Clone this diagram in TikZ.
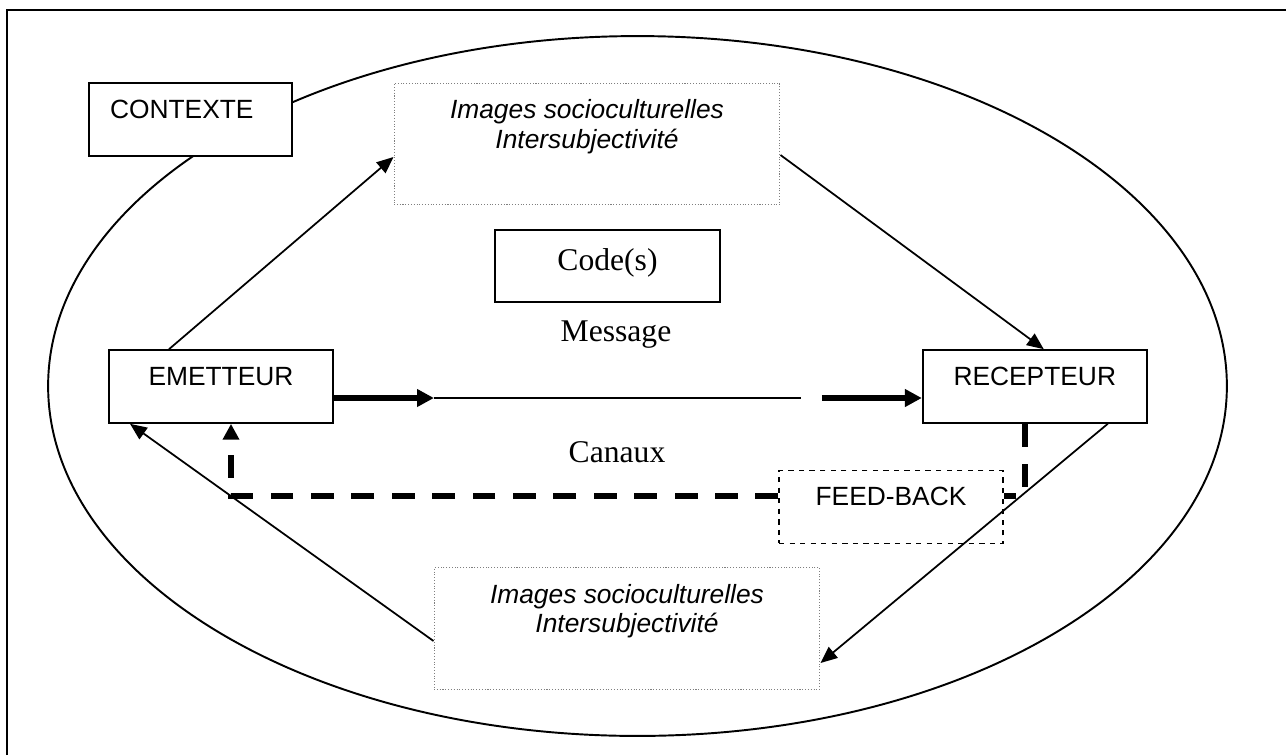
\documentclass[tikz,border=0pt]{standalone}
\usepackage{fontspec}
\setmainfont{Liberation Serif}
\setsansfont{Liberation Sans}
\usepackage{tikz}
\usetikzlibrary{positioning, calc, arrows.meta}
\definecolor{dotGray}{HTML}{7F7F7F}
\newcommand{\imgtext}{\begin{tabular}[t]{@{}c@{}}Images socioculturelles\\Intersubjectivité\end{tabular}}

\begin{document}
\begin{tikzpicture}[x=0.02cm, y=-0.02cm,
  box/.style={draw, fill=white, line width=1.1pt, inner ysep=0pt, minimum width=4.48cm, text height=20pt, text depth=21.4pt, font=\sffamily\fontsize{15}{17}\selectfont},
  imgbox/.style={draw=dotGray, densely dotted, line width=0.6pt, inner sep=0pt, minimum width=7.72cm, text height=20pt, text depth=49pt, font=\sffamily\itshape\fontsize{15}{17}\selectfont},
  lbl/.style={font=\fontsize{18}{21}\selectfont, anchor=base, inner sep=0pt},
  arr/.style={-{Triangle[length=9.5pt, width=8pt]}, line width=1pt},
  fat/.style={-{Triangle[length=9.6pt, width=9.6pt]}, line width=3.6pt},
  fbline/.style={line width=3.2pt, dash pattern=on 13pt off 10pt}
]
\useasboundingbox (0,0) rectangle (1286,755);
\draw[line width=1.1pt] (7,755) -- (7,10) -- (1286,10);
\draw[line width=1.1pt] (637.5,386) ellipse [x radius=11.79cm, y radius=7cm];

\node[box, align=left, text width=3.22cm, inner xsep=0.42cm, minimum width=4.06cm] (ctx) at (190.5,119.5) {CONTEXTE};
\node[box] (emet) at (221,386.5) {EMETTEUR};
\node[box, right=11.76cm of emet] (rec) {RECEPTEUR};
\node[imgbox] (imgtop) at (587,144) {\imgtext};
\node[imgbox] (imgbot) at (627,628.5) {\imgtext};
\node[box, font=\fontsize{18}{21}\selectfont, text height=23pt, text depth=17.8pt, minimum width=4.5cm] (code) at (607.5,266) {Code(s)};
\node[box, dashed, line width=0.8pt, fill=none] (fb) at (891,507) {FEED-BACK};
\node[lbl] (msg) at (616,341) {Message};
\node[lbl] (can) at (617,462) {Canaux};

% canal
\draw[fat] ($(emet.east)+(0,11.5)$) -- ++(100,0) coordinate (canA);
\draw[line width=1pt] (canA) -- ++(367,0) coordinate (canB);
\draw[fat] ($(canB)+(21,0)$) -- ($(rec.west)+(0,11.5)$);

% images
\draw[arr] ($(emet.north west)+(61,0)$) -- ($(imgtop.west)+(0,13)$);
\draw[arr] ($(imgtop.east)+(0,11)$) -- ($(rec.north)+(9,0)$);
\draw[arr] ($(imgbot.west)+(0,12.5)$) -- ($(emet.south west)+(22,0)$);

% feed-back
\draw[fbline] ($(rec.south)+(-10,0)$) |- ($(fb.east)+(0,-11)$);
\draw[fbline, -{Triangle[length=9pt, width=9pt]}] ($(fb.west)+(0,-11)$) -| ($(emet.south)+(10,0)$);
\draw[arr] ($(rec.south east)+(-40,0)$) -- ($(imgbot.east)+(0,34.5)$);
\end{tikzpicture}
\end{document}
